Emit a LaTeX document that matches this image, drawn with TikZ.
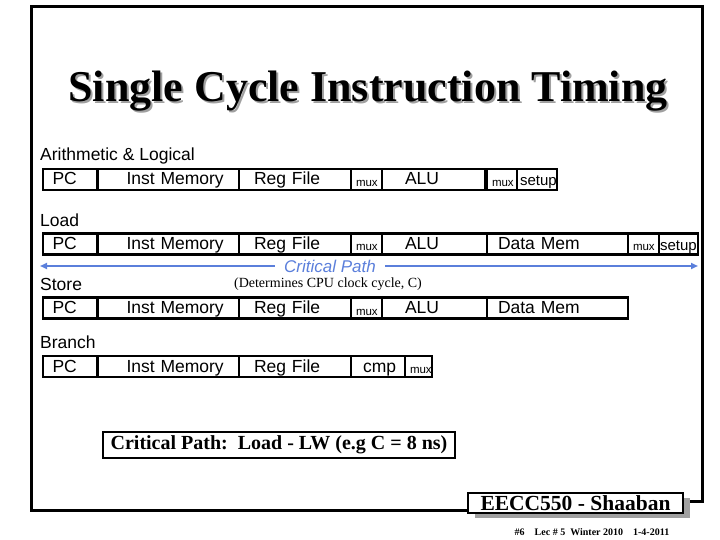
\documentclass[tikz,border=0pt]{standalone}
\usepackage{fontspec}
\setmainfont{Liberation Serif}
\setsansfont{Liberation Sans}
\usetikzlibrary{positioning, arrows.meta}
\definecolor{cpBlue}{HTML}{5B7FDB}
\definecolor{shadowGray}{HTML}{A0A0A0}

\tikzset{
  unit/.style 2 args={draw, line width=2.5pt, inner sep=0pt, outer sep=0pt, minimum height=21pt,
    text width=#1, align=left, execute at begin node={\hspace*{#2}},
    text height=11pt, text depth=0pt, font=\sffamily\fontsize{17.5}{17.5}\selectfont},
  muxbox/.style 2 args={unit={#1}{#2}, text height=14pt, font=\sffamily\fontsize{11.5}{11.5}\selectfont},
  setupbox/.style 2 args={unit={#1}{#2}, text height=12pt, font=\sffamily\fontsize{15}{15}\selectfont},
  rowlabel/.style={anchor=west, inner sep=0pt, font=\sffamily\fontsize{17.5}{17.5}\selectfont},
  titletext/.style={anchor=base, inner sep=0pt, font=\bfseries\fontsize{44}{44}\selectfont},
  cparrow/.style={cpBlue, line width=2.5pt, -{Triangle[length=7pt, width=6pt]}},
  footbox/.style={minimum width=215pt, minimum height=20pt, inner sep=0pt},
}

\begin{document}
\begin{tikzpicture}[x=1pt, y=-1pt]
  \useasboundingbox (0,0) rectangle (720,540);
  % frame
  \draw[line width=3pt] (469,510) -- (31,510) -- (31,7) -- (702,7) -- (702,501) -- (690,501);
  % title with shadow
  \node[titletext, text=shadowGray] (titleshadow) at (370,104) {Single Cycle Instruction Timing};
  \node[titletext] (title) at (368,102) {Single Cycle Instruction Timing};

  % common stages
  \foreach \r/\lbl/\y in {1/{Arithmetic \& Logical}/179.5, 2/Load/244, 3/Store/308, 4/Branch/366.5} {
    \node[rowlabel] (lbl\r) at (40,\y-24) {\lbl};
    \node[unit={54.5pt}{9.5pt}, anchor=west] (pc\r) at (43,\y) {PC};
    \node[unit={141.5pt}{29pt}, right=0pt of pc\r] (im\r) {Inst Memory};
    \node[unit={112pt}{15pt}, right=0pt of im\r] (rf\r) {Reg File};
  }
  % arithmetic & logical
  \node[muxbox={31pt}{5pt}, right=0pt of rf1] (muxa1) {mux};
  \node[unit={103pt}{23pt}, right=0pt of muxa1] (alu1) {ALU};
  \node[muxbox={30pt}{5pt}, right=2pt of alu1] (muxb1) {mux};
  \node[setupbox={40pt}{3pt}, right=0pt of muxb1] (setup1) {setup};
  % load
  \node[muxbox={31pt}{5pt}, right=0pt of rf2] (muxa2) {mux};
  \node[unit={105pt}{23pt}, right=0pt of muxa2] (alu2) {ALU};
  \node[unit={141pt}{11pt}, right=0pt of alu2] (dm2) {Data Mem};
  \node[muxbox={31pt}{5pt}, right=0pt of dm2] (muxb2) {mux};
  \node[setupbox={39pt}{1pt}, right=0pt of muxb2] (setup2) {setup};
  % store
  \node[muxbox={31pt}{5pt}, right=0pt of rf3] (muxa3) {mux};
  \node[unit={105pt}{23pt}, right=0pt of muxa3] (alu3) {ALU};
  \node[unit={141pt}{11pt}, right=0pt of alu3] (dm3) {Data Mem};
  % branch
  \node[unit={54pt}{12pt}, right=0pt of rf4] (cmp4) {cmp};
  \node[muxbox={27pt}{5pt}, right=0pt of cmp4] (mux4) {mux};

  % critical path
  \node[text=cpBlue, inner xsep=9pt, font=\sffamily\itshape\fontsize{17}{17}\selectfont] (cp) at (330,266) {Critical Path};
  \coordinate (cpL) at (40,266);
  \coordinate (cpR) at (698,266);
  \draw[cparrow] (cp.west) -- (cpL);
  \draw[cparrow] (cp.east) -- (cpR);
  \node[font=\fontsize{14}{14}\selectfont] (clock) at (328,284) {(Determines CPU clock cycle, C)};

  \node[draw, line width=2pt, minimum width=352pt, minimum height=26pt,
    font=\bfseries\fontsize{20}{20}\selectfont] (cpbox) at (279,445) {Critical Path:\ \ Load - LW (e.g C = 8 ns)};

  % footer
  \node[footbox, fill=shadowGray] (footshadow) at (582.5,508) {};
  \node[footbox, draw, line width=1.5pt, fill=white, font=\bfseries\fontsize{21.5}{21.5}\selectfont] (foot) at (575.5,503) {EECC550 - Shaaban};
  \node[font=\bfseries\fontsize{10}{10}\selectfont] (slideinfo) at (592,532) {\#6\quad Lec \# 5\ \ Winter 2010\quad 1-4-2011};
\end{tikzpicture}
\end{document}
